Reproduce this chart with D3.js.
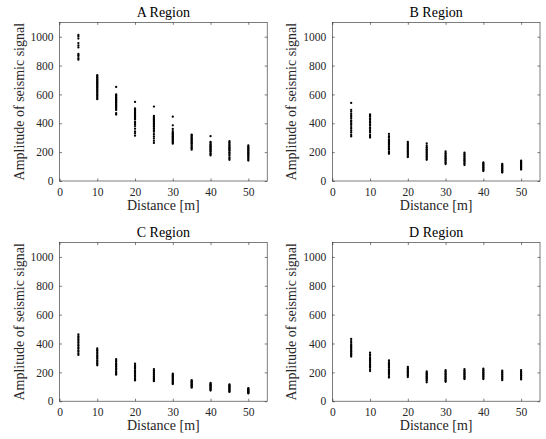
<!DOCTYPE html>
<html>
<head>
<meta charset="utf-8">
<script src="https://cdn.jsdelivr.net/npm/d3@7"></script>
<style>
  body { margin: 0; background: #fff; }
  svg { display: block; font-family: "Liberation Serif", "Times New Roman", serif; }
  .tick text { font-family: "Liberation Serif", "Times New Roman", serif; font-size: 11.5px; fill: #262626; }
  .tick line { stroke: #262626; stroke-width: 0.6; }
</style>
</head>
<body>
<svg></svg>
<script>
// distance of each measuring point (m)
var distances = [5, 10, 15, 20, 25, 30, 35, 40, 45, 50];
var xTicks = [0, 10, 20, 30, 40, 50];
var yTicks = [0, 200, 400, 600, 800, 1000];
var titles = ["A Region", "B Region", "C Region", "D Region"];

// amplitude readings per distance, one list for every region
var ampA = [
  [1012, 1001, 987, 956, 940, 926, 881, 873, 866, 851, 841],
  [734, 729, 721, 717, 709, 703, 699, 691, 687, 679, 676, 668, 665, 657, 651, 647, 639, 633, 627, 619, 613, 603, 597, 589, 581, 573, 567],
  [652, 601, 594, 589, 581, 577, 569, 565, 557, 553, 545, 541, 533, 527, 521, 514, 509, 499, 492, 471, 461],
  [548, 503, 497, 489, 485, 477, 471, 463, 454, 449, 441, 431, 426, 409, 403, 394, 381, 363, 344, 331, 314],
  [516, 451, 443, 435, 427, 421, 413, 404, 397, 391, 382, 377, 367, 361, 351, 341, 324, 309, 296, 279, 264],
  [446, 386, 361, 346, 337, 331, 323, 319, 311, 307, 301, 294, 289, 285, 277, 273, 265, 259],
  [321, 316, 307, 301, 293, 289, 281, 277, 269, 263, 259, 249, 243, 233, 227, 217],
  [311, 271, 266, 257, 251, 243, 239, 231, 227, 219, 215, 207, 201, 191, 186, 177],
  [276, 267, 261, 251, 246, 237, 233, 225, 221, 213, 209, 199, 193, 183, 176, 164, 156, 147],
  [246, 237, 233, 225, 221, 213, 209, 201, 197, 189, 185, 177, 173, 164, 159, 149, 142]
];
var ampB = [
  [541, 493, 481, 467, 456, 444, 433, 419, 411, 399, 389, 374, 363, 349, 336, 319, 309],
  [461, 451, 446, 434, 426, 414, 406, 394, 386, 371, 361, 347, 336, 319, 311, 301],
  [326, 311, 301, 289, 283, 273, 267, 257, 251, 241, 235, 224, 216, 204, 196, 189],
  [271, 263, 253, 247, 237, 231, 221, 215, 205, 199, 189, 181, 171, 166],
  [261, 246, 235, 229, 219, 213, 203, 197, 187, 181, 171, 165, 155, 147],
  [206, 194, 187, 177, 171, 161, 156, 147, 141, 131, 125, 117],
  [197, 187, 181, 171, 166, 157, 151, 142, 137, 127, 121, 111],
  [129, 121, 117, 109, 105, 97, 93, 85, 81, 74, 69],
  [119, 111, 107, 99, 95, 87, 83, 75, 71, 63, 59],
  [141, 133, 129, 121, 117, 109, 105, 97, 93, 85, 79]
];
var ampC = [
  [463, 451, 443, 431, 423, 411, 403, 391, 383, 371, 363, 351, 343, 331, 321],
  [366, 355, 348, 337, 330, 319, 312, 301, 294, 283, 276, 265, 258, 249],
  [291, 280, 273, 262, 255, 244, 237, 226, 219, 208, 201, 191, 184],
  [261, 250, 243, 232, 225, 214, 207, 196, 189, 178, 171, 160, 153, 144],
  [223, 214, 209, 200, 195, 186, 181, 172, 167, 158, 153, 144, 139],
  [191, 183, 179, 171, 167, 159, 155, 147, 143, 135, 131, 123, 119],
  [146, 139, 136, 129, 126, 119, 116, 109, 106, 99, 94],
  [126, 119, 116, 109, 106, 99, 96, 89, 86, 79, 74],
  [116, 109, 106, 99, 96, 89, 86, 79, 76, 69, 64],
  [91, 85, 83, 77, 75, 69, 67, 61, 59, 54]
];
var ampD = [
  [431, 417, 406, 394, 386, 377, 371, 361, 356, 347, 341, 331, 326, 317, 309],
  [336, 324, 316, 304, 297, 287, 281, 271, 265, 255, 249, 239, 231, 219, 209],
  [283, 271, 263, 253, 247, 237, 231, 221, 215, 205, 199, 189, 181, 169, 164],
  [237, 227, 221, 211, 206, 197, 191, 181, 176, 167],
  [206, 197, 193, 185, 181, 173, 169, 161, 156, 147, 141, 131],
  [216, 207, 201, 191, 186, 177, 171, 161, 156, 147, 141, 134],
  [223, 214, 209, 200, 196, 187, 182, 173, 168, 159, 154],
  [226, 217, 212, 203, 198, 189, 184, 175, 170, 161, 154],
  [211, 202, 197, 188, 183, 174, 169, 160, 155, 146],
  [216, 207, 202, 193, 188, 179, 174, 165, 160, 151]
];
var regions = [ampA, ampB, ampC, ampD];

var width = 546, height = 439;
var svg = d3.select("svg").attr("width", width).attr("height", height);

var panelW = 207.7, panelH = 158.7;
var lefts = [59.5, 332.3, 59.5, 332.3];
var tops = [22.3, 22.3, 242.5, 242.5];
var fmt = d3.format("d");

regions.forEach(function(amp, k) {
  var g = svg.append("g")
    .attr("transform", "translate(" + lefts[k] + "," + tops[k] + ")");

  var x = d3.scaleLinear().domain([0, 55]).range([0, panelW]);
  var y = d3.scaleLinear().domain([0, 1100]).range([panelH, 0]);

  // ticks point inward, like matlab
  g.append("g").attr("transform", "translate(0," + panelH + ")")
    .call(d3.axisBottom(x).tickValues(xTicks).tickFormat(fmt).tickSize(-2.5).tickPadding(7))
    .call(function(a) { a.select(".domain").remove(); });
  g.append("g")
    .call(d3.axisLeft(y).tickValues(yTicks).tickFormat(fmt).tickSize(-2.5).tickPadding(6))
    .call(function(a) { a.select(".domain").remove(); });
  g.append("g")
    .call(d3.axisTop(x).tickValues(xTicks).tickSize(-2.5).tickFormat(""))
    .call(function(a) { a.select(".domain").remove(); });
  g.append("g").attr("transform", "translate(" + panelW + ",0)")
    .call(d3.axisRight(y).tickValues(yTicks).tickSize(-2.5).tickFormat(""))
    .call(function(a) { a.select(".domain").remove(); });

  g.append("rect")
    .attr("width", panelW).attr("height", panelH)
    .attr("fill", "none").attr("stroke", "#262626").attr("stroke-width", 0.6);

  var pts = [];
  distances.forEach(function(d, i) {
    amp[i].forEach(function(v) { pts.push({dist: d, val: v}); });
  });

  g.selectAll("circle.pt")
    .data(pts)
    .enter()
    .append("circle")
    .attr("class", "pt")
    .attr("cx", function(d) { return x(d.dist); })
    .attr("cy", function(d) { return y(d.val); })
    .attr("r", 1.15)
    .attr("fill", "#000");

  g.append("text")
    .attr("x", panelW / 2).attr("y", -5.5)
    .attr("text-anchor", "middle")
    .attr("font-size", "14px").attr("fill", "#000")
    .text(titles[k]);

  g.append("text")
    .attr("x", panelW / 2).attr("y", panelH + 29)
    .attr("text-anchor", "middle")
    .attr("font-size", "14px").attr("fill", "#262626")
    .text("Distance [m]");

  g.append("text")
    .attr("transform", "rotate(-90)")
    .attr("x", -panelH / 2).attr("y", -36)
    .attr("text-anchor", "middle")
    .attr("font-size", "14px").attr("fill", "#262626")
    .text("Amplitude of seismic signal");
});
</script>
</body>
</html>
